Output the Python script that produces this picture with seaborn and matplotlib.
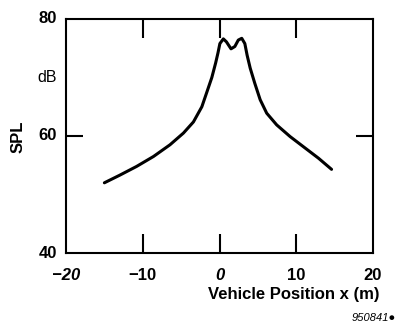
import matplotlib
matplotlib.use("Agg")
import matplotlib.pyplot as plt
import seaborn as sns
import pandas as pd

# values
position = [-15, -13, -10.8, -8.6, -6.45, -4.7, -3.4, -2.3, -1.7, -1.0, -0.5, -0.2, 0.05,
            0.5, 0.9, 1.5, 2.0, 2.45, 2.9, 3.3, 3.6, 4.0, 4.6, 5.3, 6.15, 7.45, 9.2,
            10.9, 12.9, 14.6]
spl = [52.0, 53.3, 54.8, 56.5, 58.5, 60.5, 62.4, 65.0, 67.3, 70.0, 72.5, 74.2, 75.8,
       76.6, 76.1, 74.9, 75.3, 76.4, 76.7, 75.8, 73.8, 71.6, 69.0, 66.2, 63.9, 61.9, 59.9,
       58.2, 56.2, 54.3]
x_ticks = [-20, -10, 0, 10, 20]
x_ticklabels = ["\u221220", "\u221210", "0", "10", "20"]
y_ticks = [40, 60, 80]

df = pd.DataFrame({"x": position, "spl": spl})

sns.set_style("white")
plt.rcParams["font.family"] = ["Liberation Sans", "DejaVu Sans"]
plt.rcParams["text.color"] = "black"
plt.rcParams["xtick.color"] = "black"
plt.rcParams["ytick.color"] = "black"

fig = plt.figure(figsize=(3.98, 3.24), dpi=100)
ax = fig.add_axes([66 / 398, 1 - 253 / 324, 307 / 398, 234 / 324])

sns.lineplot(data=df, x="x", y="spl", ax=ax, color="black", linewidth=2.2,
             sort=False, solid_joinstyle="round", solid_capstyle="round")

ax.set_xlim(-20, 20)
ax.set_ylim(40, 80)
for s in ax.spines.values():
    s.set_visible(True)
    s.set_color("black")
    s.set_linewidth(1.5)

# inward ticks on all sides (length in points)
ax.set_xticks(x_ticks[1:-1])
ax.set_yticks([60])
ax.tick_params(axis="x", direction="in", length=14, width=1.5, colors="black",
               top=True, bottom=True, labelbottom=False)
ax.tick_params(axis="y", direction="in", length=12, width=1.5, colors="black",
               left=True, right=True, labelleft=False)
ax.set_xlabel("")
ax.set_ylabel("")

# tick labels as text
for v, lab in zip(x_ticks, x_ticklabels):
    italic = lab in ("\u221220", "0")
    ax.text(v, -0.095, lab, transform=ax.get_xaxis_transform(), ha="center", va="center",
            fontsize=12, fontweight="bold", style="italic" if italic else "normal")
for v in y_ticks:
    ax.text(-0.03, v, str(v), transform=ax.get_yaxis_transform(), ha="right", va="center",
            fontsize=12, fontweight="bold")
ax.text(-0.03, 70, "dB", transform=ax.get_yaxis_transform(), ha="right", va="center",
        fontsize=11.5)

fig.text(18 / 398, 1 - 137 / 324, "SPL", rotation=90, ha="center", va="center",
         fontsize=12, fontweight="bold")
fig.text(294 / 398, 1 - 294 / 324, "Vehicle Position x (m)", ha="center", va="center",
         fontsize=12, fontweight="bold")
fig.text(396 / 398, 1 - 318 / 324, "950841\u25cf", ha="right", va="center",
         fontsize=8, style="italic")

fig.savefig("out.png", dpi=100)
